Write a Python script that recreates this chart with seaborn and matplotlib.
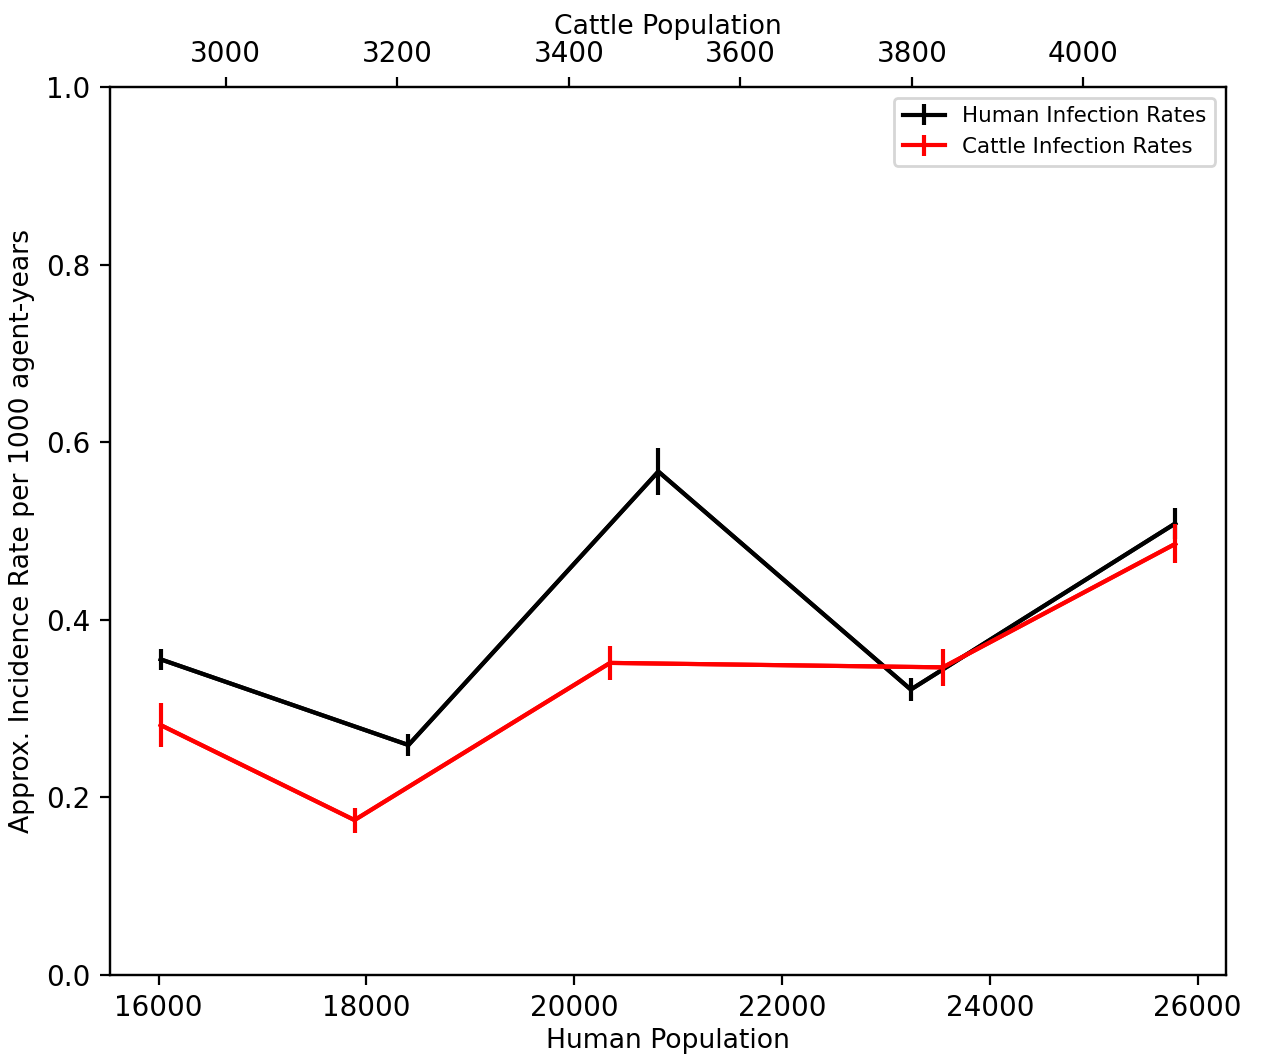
import matplotlib
matplotlib.use("Agg")
import matplotlib.pyplot as plt
import seaborn as sns
import pandas as pd

# human population vs human infection rate (bottom axis)
human_pop = [16020, 18405, 20810, 23240, 25785]
human_rate = [0.3555, 0.259, 0.567, 0.3215, 0.5085]
human_err = [0.012, 0.012, 0.026, 0.013, 0.017]

# cattle population vs cattle infection rate (top axis)
cattle_pop = [2924, 3150, 3448, 3836, 4107]
cattle_rate = [0.2815, 0.1745, 0.3515, 0.3465, 0.4855]
cattle_err = [0.025, 0.014, 0.019, 0.021, 0.022]

human_df = pd.DataFrame({"pop": human_pop, "rate": human_rate})
cattle_df = pd.DataFrame({"pop": cattle_pop, "rate": cattle_rate})

fig, ax = plt.subplots(figsize=(6.305, 5.275), dpi=200)
fig.subplots_adjust(left=0.0872, right=0.9722, top=0.9175, bottom=0.0758)

sns.lineplot(x="pop", y="rate", data=human_df, color="k", lw=1.5, ax=ax, legend=False)
h1 = ax.errorbar(human_pop, human_rate, yerr=human_err, fmt="-", color="k", lw=1.5,
                 label="Human Infection Rates")
ax.set_ylim(0, 1.0)
ax.set_xlabel("Human Population", fontsize=9.6, labelpad=2)
ax.set_ylabel("Approx. Incidence Rate per 1000 agent-years", fontsize=9.6)

ax2 = ax.twiny()
sns.lineplot(x="pop", y="rate", data=cattle_df, color="r", lw=1.5, ax=ax2, legend=False)
h2 = ax2.errorbar(cattle_pop, cattle_rate, yerr=cattle_err, fmt="-", color="r", lw=1.5,
                  label="Cattle Infection Rates")
ax2.set_xlabel("Cattle Population", fontsize=9.6, labelpad=2)
ax2.set_ylim(0, 1.0)

ax2.legend([h1, h2], ["Human Infection Rates", "Cattle Infection Rates"],
           loc="upper right", fontsize=7.7)

plt.savefig("out.png", dpi=200)
